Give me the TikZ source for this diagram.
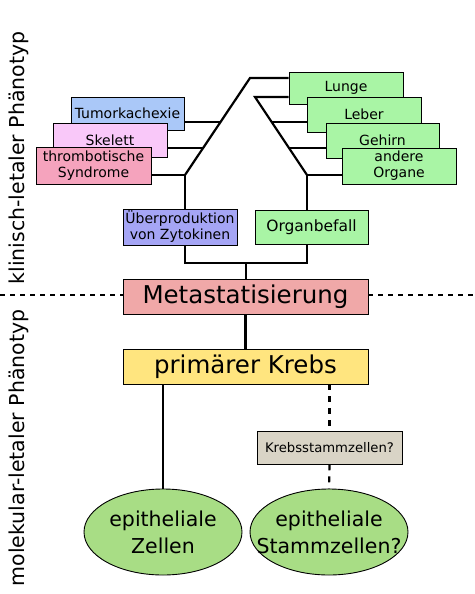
\documentclass[tikz,border=0pt]{standalone}
\usepackage{fontspec}
\setmainfont{DejaVu Sans}
\usetikzlibrary{shapes.geometric,calc}
\definecolor{cTumor}{HTML}{AAC8F8}
\definecolor{cSkel}{HTML}{F9C8F9}
\definecolor{cThromb}{HTML}{F5A3BD}
\definecolor{cUeber}{HTML}{A5A5F5}
\definecolor{cGreen}{HTML}{A9F5A5}
\definecolor{cMeta}{HTML}{F0A8A8}
\definecolor{cKrebs}{HTML}{FFE57F}
\definecolor{cStamm}{HTML}{D9D4C6}
\definecolor{cEll}{HTML}{A8DD85}
\tikzset{
  box/.style={draw=black, line width=0.9pt, rectangle, inner sep=0pt, align=center,
    font=\fontsize{14}{16}\selectfont},
  bigbox/.style={box, font=\fontsize{24.5}{28}\selectfont},
  cell/.style={draw=black, line width=0.9pt, ellipse, fill=cEll, inner sep=0pt,
    minimum width=158pt, minimum height=86pt},
  celltext/.style={align=center, inner sep=0pt, font=\fontsize{20.5}{27}\selectfont},
  conn/.style={line width=2.2pt, black},
  dconn/.style={line width=2.2pt, black, dash pattern=on 6pt off 6pt},
  hdash/.style={line width=2.2pt, black, dash pattern=on 5pt off 5pt},
  side/.style={rotate=90, inner sep=0pt, font=\fontsize{20.5}{24}\selectfont}
}
\begin{document}
\begin{tikzpicture}[x=1pt,y=-1pt]
\useasboundingbox (0,0) rectangle (474,594);

% side labels
\node[side] (klin) at (19,158) {klinisch-letaler Phänotyp};
\node[side] (mol) at (19,448) {molekular-letaler Phänotyp};

% left stack
\node[box, fill=cTumor, minimum width=113pt, minimum height=33pt] (tumor) at (127.5,113.5) {Tumorkachexie};
\node[box, fill=cSkel, minimum width=114pt, minimum height=34pt] (skel) at (110,140) {Skelett};
\node[box, fill=cThromb, minimum width=115pt, minimum height=37pt] (thromb) at (93.5,165.5) {thrombotische\\Syndrome};

% right stack
\node[box, fill=cGreen, minimum width=114pt, minimum height=32pt] (lunge) at (346,88) {Lunge};
\node[box, fill=cGreen, minimum width=114pt, minimum height=35pt] (leber) at (364,114.5) {Leber};
\node[box, fill=cGreen, minimum width=113pt, minimum height=35pt] (gehirn) at (382.5,140.5) {Gehirn};
\node[box, fill=cGreen, minimum width=114pt, minimum height=36pt] (andere) at (399,166) {andere\\Organe};

\node[box, fill=cUeber, minimum width=114pt, minimum height=36pt] (ueber) at (180,227) {Überproduktion\\von Zytokinen};
\node[box, fill=cGreen, minimum width=113pt, minimum height=34pt, font=\fontsize{15.5}{18}\selectfont] (organ) at (311.5,227) {Organbefall};

\node[bigbox, fill=cMeta, minimum width=245pt, minimum height=35pt] (meta) at (245.5,296.5) {Metastatisierung};
\node[bigbox, fill=cKrebs, minimum width=245pt, minimum height=35pt] (krebs) at (245.5,366.5) {primärer Krebs};
\node[box, fill=cStamm, minimum width=145pt, minimum height=33pt, font=\fontsize{13.2}{15}\selectfont] (stamm) at (329.5,447.5) {Krebsstammzellen?};

\node[cell] (e1) at (163,532) {};
\node[celltext] (e1t) at (e1.center) {epitheliale\\Zellen};
\node[cell] (e2) at (329,532) {};
\node[celltext] (e2t) at (e2.center) {epitheliale\\Stammzellen?};

% junction coordinates
\coordinate (Lj) at (185,175);
\coordinate (Lt) at (250,78);
\coordinate (d1) at (220.5,122);
\coordinate (d2) at (203,148);
\coordinate (Rt) at (255,97);
\coordinate (Rj) at (307,175);
\coordinate (r1) at (272,122);
\coordinate (r2) at (289,148);
\coordinate (bl) at (185,263);
\coordinate (br) at (307,263);
\coordinate (bc) at (246,263);
\coordinate (dl) at (0,295);
\coordinate (dr) at (474,295);

% connectors left
\draw[conn] (Lj) -- (Lt) -- (Lt -| lunge.west);
\draw[conn] (d1) -- (d1 -| tumor.east);
\draw[conn] (d2) -- (d2 -| skel.east);
\draw[conn] (Lj) -- (Lj -| thromb.east);
\draw[conn] (Lj) -- (Lj |- ueber.north);
% connectors right
\draw[conn] (Rt -| lunge.west) -- (Rt) -- (Rj);
\draw[conn] (r1) -- (r1 -| leber.west);
\draw[conn] (r2) -- (r2 -| gehirn.west);
\draw[conn] (Rj) -- (Rj -| andere.west);
\draw[conn] (Rj) -- (Rj |- organ.north);
% bracket
\draw[conn] (bl |- ueber.south) -- (bl) -- (br) -- (br |- organ.south);
\draw[conn] (bc) -- (bc |- meta.north);
\draw[conn] (meta.south) -- (krebs.north);
\draw[conn] (krebs.south -| e1.north) -- (e1.north);
\draw[dconn] (krebs.south -| stamm.north) -- (stamm.north);
\draw[dconn] (stamm.south) -- (e2.north);
% phenotype divider
\draw[hdash] (dl) -- (dl -| meta.west);
\draw[hdash] (dr -| meta.east) -- (dr);
\end{tikzpicture}
\end{document}
